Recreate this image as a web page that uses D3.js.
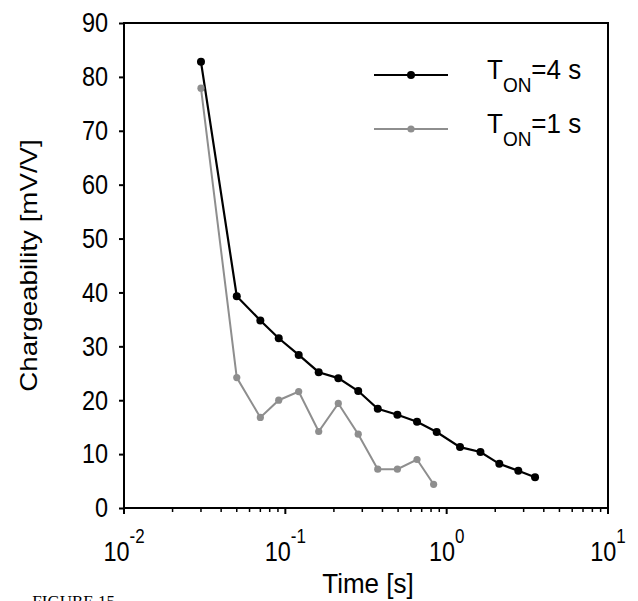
<!DOCTYPE html>
<html>
<head>
<meta charset="utf-8">
<script src="https://cdn.jsdelivr.net/npm/d3@7"></script>
<style>
  body { margin: 0; background: #fff; }
  text { font-family: "Liberation Sans", Arial, sans-serif; fill: #000; }
</style>
</head>
<body>
<svg id="chart" width="638" height="601"></svg>
<script>
// data
const timesLong = [0.030, 0.050, 0.070, 0.091, 0.121, 0.161, 0.213, 0.283, 0.374, 0.495, 0.655, 0.867, 1.21, 1.62, 2.12, 2.78, 3.53];
const chargeLong = [82.8, 39.3, 34.8, 31.5, 28.4, 25.2, 24.1, 21.7, 18.4, 17.3, 16.0, 14.1, 11.3, 10.4, 8.2, 6.9, 5.7];
const timesShort = [0.030, 0.050, 0.070, 0.091, 0.121, 0.161, 0.213, 0.283, 0.374, 0.495, 0.655, 0.830];
const chargeShort = [77.9, 24.2, 16.8, 20.0, 21.6, 14.2, 19.4, 13.7, 7.2, 7.2, 9.0, 4.4];
const yTicks = [0, 10, 20, 30, 40, 50, 60, 70, 80, 90];
const xDecades = [0.01, 0.1, 1, 10];
const xExponents = ["-2", "-1", "0", "1"];
const seriesNames = ["=4 s", "=1 s"];

const SY = 1.18; // the source picture is stretched vertically
const fs = 23.5;

const mLeft = 124, mRight = 608, mTop = 23, mBottom = 508;

const svg = d3.select("#chart");

const x = d3.scaleLog().domain([0.01, 10]).range([mLeft, mRight]);
const y = d3.scaleLinear().domain([0, 90]).range([mBottom, mTop]);

// frame
svg.append("rect")
  .attr("x", mLeft).attr("y", mTop)
  .attr("width", mRight - mLeft).attr("height", mBottom - mTop)
  .attr("fill", "none").attr("stroke", "#000").attr("stroke-width", 2);

// y axis
const yAxis = svg.append("g")
  .attr("transform", `translate(${mLeft},0)`)
  .call(d3.axisLeft(y).tickValues(yTicks).tickSize(5).tickPadding(11));
yAxis.select(".domain").remove();
yAxis.selectAll(".tick line").attr("stroke-width", 2);
yAxis.selectAll(".tick text")
  .attr("font-size", fs)
  .attr("font-family", "Liberation Sans, Arial, sans-serif")
  .attr("transform", `scale(1,${SY})`);

// x axis: minor ticks
const minor = x.ticks().filter(v => !xDecades.some(d => Math.abs(d - v) < 1e-9));
svg.append("g").selectAll("line").data(minor).join("line")
  .attr("x1", d => x(d)).attr("x2", d => x(d))
  .attr("y1", mBottom).attr("y2", mBottom + 4)
  .attr("stroke", "#000").attr("stroke-width", 1.5);

// x axis: major ticks
svg.append("g").selectAll("line").data(xDecades).join("line")
  .attr("x1", d => x(d)).attr("x2", d => x(d))
  .attr("y1", mBottom).attr("y2", mBottom + 6)
  .attr("stroke", "#000").attr("stroke-width", 2);

const xl = svg.append("g").selectAll("text").data(xDecades).join("text")
  .attr("text-anchor", "middle")
  .attr("transform", d => `translate(${x(d)},561) scale(1,${SY})`)
  .attr("font-size", fs);
xl.append("tspan").text("10");
xl.append("tspan").attr("font-size", 17).attr("dy", -15)
  .text((d, i) => xExponents[i]);

// axis titles
svg.append("text")
  .attr("text-anchor", "middle")
  .attr("transform", `translate(${(mLeft + mRight) / 2 + 2},593) scale(1,1.08)`)
  .attr("font-size", 26)
  .text("Time [s]");

svg.append("text")
  .attr("text-anchor", "middle")
  .attr("transform", `translate(37,${(mTop + mBottom) / 2}) rotate(-90) scale(${SY},1)`)
  .attr("font-size", fs)
  .text("Chargeability [mV/V]");

// series
const line = d3.line().x(d => x(d[0])).y(d => y(d[1]));
const series = [
  { t: timesLong, v: chargeLong, color: "#000", r: 4, w: 2.2 },
  { t: timesShort, v: chargeShort, color: "#8e8e8e", r: 3.6, w: 2 }
];

series.forEach(s => {
  const pts = s.t.map((t, i) => [t, s.v[i]]);
  svg.append("path").datum(pts)
    .attr("d", line)
    .attr("fill", "none")
    .attr("stroke", s.color)
    .attr("stroke-width", s.w);
  svg.append("g").selectAll("circle").data(pts).join("circle")
    .attr("cx", d => x(d[0])).attr("cy", d => y(d[1]))
    .attr("r", s.r).attr("fill", s.color);
});

// legend
const legY = [75, 129];
series.forEach((s, i) => {
  svg.append("line")
    .attr("x1", 374).attr("x2", 448)
    .attr("y1", legY[i]).attr("y2", legY[i])
    .attr("stroke", s.color).attr("stroke-width", s.w);
  svg.append("circle")
    .attr("cx", 411).attr("cy", legY[i]).attr("r", s.r).attr("fill", s.color);
  const t = svg.append("text")
    .attr("transform", `translate(487,${legY[i] + 4}) scale(1,1.05)`)
    .attr("font-size", 26);
  t.append("tspan").text("T");
  t.append("tspan").attr("font-size", 19).attr("dy", 12).text("ON");
  t.append("tspan").attr("dy", -12).text(seriesNames[i]);
});

// caption, mostly cut off at the bottom edge
svg.append("text")
  .attr("x", 115).attr("y", 607)
  .attr("text-anchor", "end")
  .attr("font-size", 17)
  .style("font-family", "Liberation Serif, serif")
  .text("FIGURE 15");
</script>
</body>
</html>
